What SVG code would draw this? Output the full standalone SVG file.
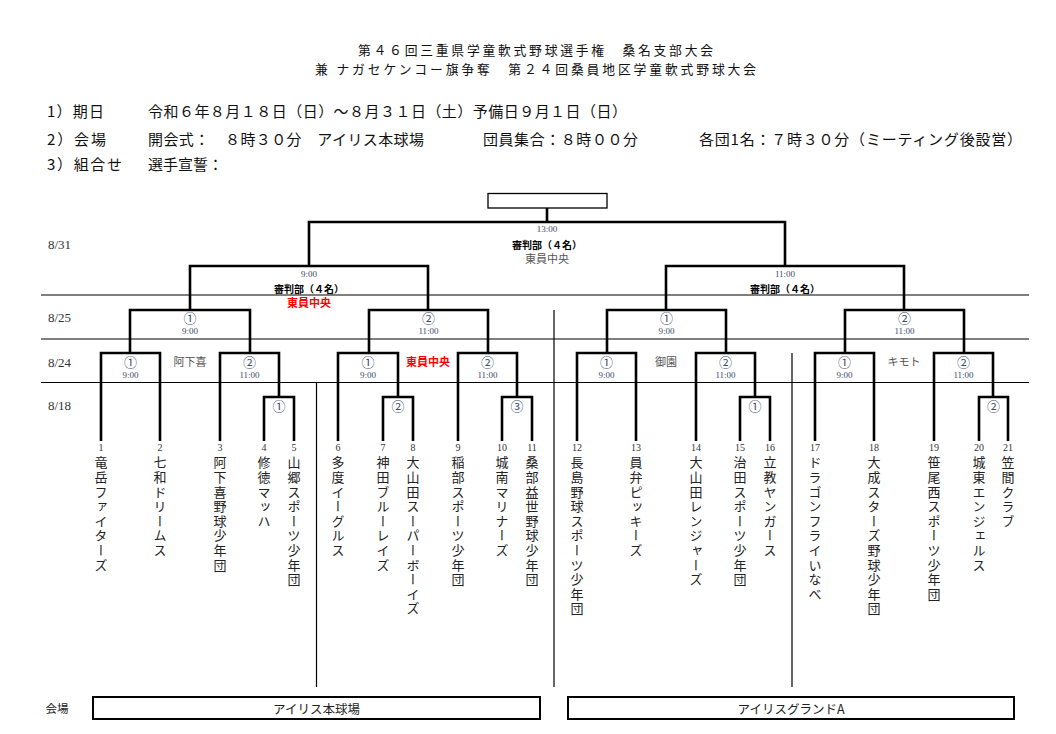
<svg xmlns="http://www.w3.org/2000/svg" width="1056" height="734" viewBox="0 0 1056 734">
<style>
.jp{font-family:"Noto Sans CJK JP","Noto Sans CJK SC",sans-serif}
.hdr{font-size:12.8px;fill:#111;dominant-baseline:central}
.info{font-size:15px;fill:#111}
.date{font-family:"Liberation Serif",serif;font-size:13px;fill:#333;dominant-baseline:central}
.tm{font-family:"Liberation Serif",serif;font-size:9px;fill:#3b4a6b;text-anchor:middle;dominant-baseline:central}
.cn{font-family:"Noto Sans CJK JP",sans-serif;font-size:13px;fill:#3b4a6b;text-anchor:middle;dominant-baseline:central}
.num{font-family:"Liberation Serif",serif;font-size:10px;fill:#333;text-anchor:middle;dominant-baseline:central}
.team{font-family:"Noto Sans CJK JP",sans-serif;font-size:13px;fill:#222;writing-mode:vertical-rl;letter-spacing:1.6px}
.ref{font-family:"Noto Sans CJK JP",sans-serif;font-size:10px;font-weight:bold;fill:#000;text-anchor:middle;dominant-baseline:central}
.site{font-family:"Noto Sans CJK JP",sans-serif;font-size:11px;fill:#555;text-anchor:middle;dominant-baseline:central}
.red{font-family:"Noto Sans CJK JP",sans-serif;font-size:11px;font-weight:bold;fill:#f00;text-anchor:middle;dominant-baseline:central}
.ven{font-family:"Noto Sans CJK JP",sans-serif;font-size:12.5px;fill:#222;text-anchor:middle;dominant-baseline:central}
.b{fill:none;stroke:#000;stroke-width:2.6;stroke-linejoin:miter}
.t{fill:none;stroke:#000;stroke-width:1.2}
.box{fill:#fff;stroke:#000;stroke-width:2}
</style>
<rect width="1056" height="734" fill="#fff"/>
<g id="header">
<text class="jp hdr" x="358" y="49.8" textLength="355" lengthAdjust="spacing">第４６回三重県学童軟式野球選手権　桑名支部大会</text>
<text class="jp hdr" x="315" y="68.4" textLength="441" lengthAdjust="spacing">兼 ナガセケンコー旗争奪　第２４回桑員地区学童軟式野球大会</text>
</g>
<g id="info" class="jp info" dominant-baseline="central">
<text x="47" y="110" textLength="57" lengthAdjust="spacing">1）期日</text>
<text x="148" y="110" textLength="479" lengthAdjust="spacing">令和６年８月１８日（日）～８月３１日（土）予備日９月１日（日）</text>
<text x="47" y="138" textLength="59" lengthAdjust="spacing">2）会場</text>
<text x="148" y="138" textLength="276" lengthAdjust="spacing">開会式：　８時３０分　アイリス本球場</text>
<text x="483" y="138" textLength="155" lengthAdjust="spacing">団員集合：８時００分</text>
<text x="699" y="138" textLength="323" lengthAdjust="spacing">各団1名：７時３０分（ミーティング後設営）</text>
<text x="47" y="163" textLength="75" lengthAdjust="spacing">3）組合せ</text>
<text x="148" y="163">選手宣誓：</text>
</g>
<g id="dates">
<text class="date" x="48" y="244">8/31</text>
<text class="date" x="48" y="317">8/25</text>
<text class="date" x="48" y="362">8/24</text>
<text class="date" x="48" y="405">8/18</text>
</g>
<g id="grid">
<line class="t" x1="41" y1="295" x2="1029" y2="295"/>
<line class="t" x1="41" y1="339" x2="1029" y2="339"/>
<line class="t" x1="41" y1="382.5" x2="1029" y2="382.5"/>
<line class="t" x1="316.5" y1="382.5" x2="316.5" y2="687"/>
<line class="t" x1="554" y1="310" x2="554" y2="687"/>
<line class="t" x1="792" y1="353" x2="792" y2="687"/>
</g>
<g id="connectors">
<rect x="488" y="193.5" width="119" height="14.5" fill="#fff" stroke="#000" stroke-width="1.3"/>
<path class="b" d="M547 208V222"/>
<path class="b" d="M309 266V222H785V266"/>
<path class="b" d="M190 310V266H428V310"/>
<path class="b" d="M666 310V266H904V310"/>
<path class="b" d="M130 353V310H250V353"/>
<path class="b" d="M369 353V310H488V353"/>
<path class="b" d="M607 353V310H726V353"/>
<path class="b" d="M845 353V310H964V353"/>
<path class="b" d="M101 441V353H160V441"/>
<path class="b" d="M220 441V353H279V397"/>
<path class="b" d="M264 441V397H294V441"/>
<path class="b" d="M338 441V353H398V397"/>
<path class="b" d="M383 441V397H413V441"/>
<path class="b" d="M458 441V353H517V397"/>
<path class="b" d="M502 441V397H532V441"/>
<path class="b" d="M577 441V353H636V441"/>
<path class="b" d="M696 441V353H755V397"/>
<path class="b" d="M740 441V397H770V441"/>
<path class="b" d="M815 441V353H874V441"/>
<path class="b" d="M934 441V353H993V397"/>
<path class="b" d="M979 441V397H1008V441"/>
</g>
<g id="final">
<text class="tm" x="547" y="229">13:00</text>
<text class="ref" x="547" y="244">審判部（４名）</text>
<text class="site" x="547" y="258">東員中央</text>
</g>
<g id="semi-1">
<text class="tm" x="309" y="273.5">9:00</text>
<text class="ref" x="309" y="288">審判部（４名）</text>
<text class="red" x="309" y="302">東員中央</text>
</g>
<g id="semi-2">
<text class="tm" x="785" y="273.5">11:00</text>
<text class="ref" x="785" y="288">審判部（４名）</text>
</g>
<g id="qf-1"><text class="cn" x="190" y="317">①</text><text class="tm" x="190" y="331">9:00</text></g>
<g id="qf-2"><text class="cn" x="428.5" y="317">②</text><text class="tm" x="428.5" y="331">11:00</text></g>
<g id="qf-3"><text class="cn" x="666.5" y="317">①</text><text class="tm" x="666.5" y="331">9:00</text></g>
<g id="qf-4"><text class="cn" x="904.5" y="317">②</text><text class="tm" x="904.5" y="331">11:00</text></g>
<g id="r2-1"><text class="cn" x="130.5" y="361">①</text><text class="tm" x="130.5" y="374.5">9:00</text></g>
<g id="r2-2"><text class="cn" x="249.5" y="361">②</text><text class="tm" x="249.5" y="374.5">11:00</text></g>
<g id="r2-3"><text class="cn" x="368" y="361">①</text><text class="tm" x="368" y="374.5">9:00</text></g>
<g id="r2-4"><text class="cn" x="487.5" y="361">②</text><text class="tm" x="487.5" y="374.5">11:00</text></g>
<g id="r2-5"><text class="cn" x="606.5" y="361">①</text><text class="tm" x="606.5" y="374.5">9:00</text></g>
<g id="r2-6"><text class="cn" x="725.5" y="361">②</text><text class="tm" x="725.5" y="374.5">11:00</text></g>
<g id="r2-7"><text class="cn" x="844.5" y="361">①</text><text class="tm" x="844.5" y="374.5">9:00</text></g>
<g id="r2-8"><text class="cn" x="963.5" y="361">②</text><text class="tm" x="963.5" y="374.5">11:00</text></g>
<g id="sites">
<text class="site" x="190" y="361">阿下喜</text>
<text class="red" x="428" y="361">東員中央</text>
<text class="site" x="666" y="361">御園</text>
<text class="site" x="904" y="361">キモト</text>
</g>
<g id="r1-1"><text class="cn" x="279" y="405">①</text></g>
<g id="r1-2"><text class="cn" x="398" y="405">②</text></g>
<g id="r1-3"><text class="cn" x="517" y="405">③</text></g>
<g id="r1-4"><text class="cn" x="755" y="405">①</text></g>
<g id="r1-5"><text class="cn" x="993.5" y="405">②</text></g>
<g id="team-1"><text class="num" x="101" y="447">1</text><text class="team" x="101" y="456">竜岳ファイターズ</text></g>
<g id="team-2"><text class="num" x="160" y="447">2</text><text class="team" x="160" y="456">七和ドリームス</text></g>
<g id="team-3"><text class="num" x="220" y="447">3</text><text class="team" x="220" y="456">阿下喜野球少年団</text></g>
<g id="team-4"><text class="num" x="264" y="447">4</text><text class="team" x="264" y="456">修徳マッハ</text></g>
<g id="team-5"><text class="num" x="294" y="447">5</text><text class="team" x="294" y="456">山郷スポーツ少年団</text></g>
<g id="team-6"><text class="num" x="338" y="447">6</text><text class="team" x="338" y="456">多度イーグルス</text></g>
<g id="team-7"><text class="num" x="383" y="447">7</text><text class="team" x="383" y="456">神田ブルーレイズ</text></g>
<g id="team-8"><text class="num" x="413" y="447">8</text><text class="team" x="413" y="456">大山田スーパーボーイズ</text></g>
<g id="team-9"><text class="num" x="458" y="447">9</text><text class="team" x="458" y="456">稲部スポーツ少年団</text></g>
<g id="team-10"><text class="num" x="502" y="447">10</text><text class="team" x="502" y="456">城南マリナーズ</text></g>
<g id="team-11"><text class="num" x="532" y="447">11</text><text class="team" x="532" y="456">桑部益世野球少年団</text></g>
<g id="team-12"><text class="num" x="577" y="447">12</text><text class="team" x="577" y="456">長島野球スポーツ少年団</text></g>
<g id="team-13"><text class="num" x="636" y="447">13</text><text class="team" x="636" y="456">員弁ピッキーズ</text></g>
<g id="team-14"><text class="num" x="696" y="447">14</text><text class="team" x="696" y="456">大山田レンジャーズ</text></g>
<g id="team-15"><text class="num" x="740" y="447">15</text><text class="team" x="740" y="456">治田スポーツ少年団</text></g>
<g id="team-16"><text class="num" x="770" y="447">16</text><text class="team" x="770" y="456">立教ヤンガース</text></g>
<g id="team-17"><text class="num" x="815" y="447">17</text><text class="team" x="815" y="456">ドラゴンフライいなべ</text></g>
<g id="team-18"><text class="num" x="874" y="447">18</text><text class="team" x="874" y="456">大成スターズ野球少年団</text></g>
<g id="team-19"><text class="num" x="934" y="447">19</text><text class="team" x="934" y="456">笹尾西スポーツ少年団</text></g>
<g id="team-20"><text class="num" x="979" y="447">20</text><text class="team" x="979" y="456">城東エンジェルス</text></g>
<g id="team-21"><text class="num" x="1008" y="447">21</text><text class="team" x="1008" y="456">笠間クラブ</text></g>
<g id="venues">
<text class="ven" x="57" y="708" style="font-size:11.5px">会場</text>
<g id="venue-1"><rect class="box" x="93" y="697" width="447" height="22"/><text class="ven" x="316.5" y="708">アイリス本球場</text></g>
<g id="venue-2"><rect class="box" x="568" y="697" width="446" height="22"/><text class="ven" x="791" y="708">アイリスグランドA</text></g>
</g>
</svg>
